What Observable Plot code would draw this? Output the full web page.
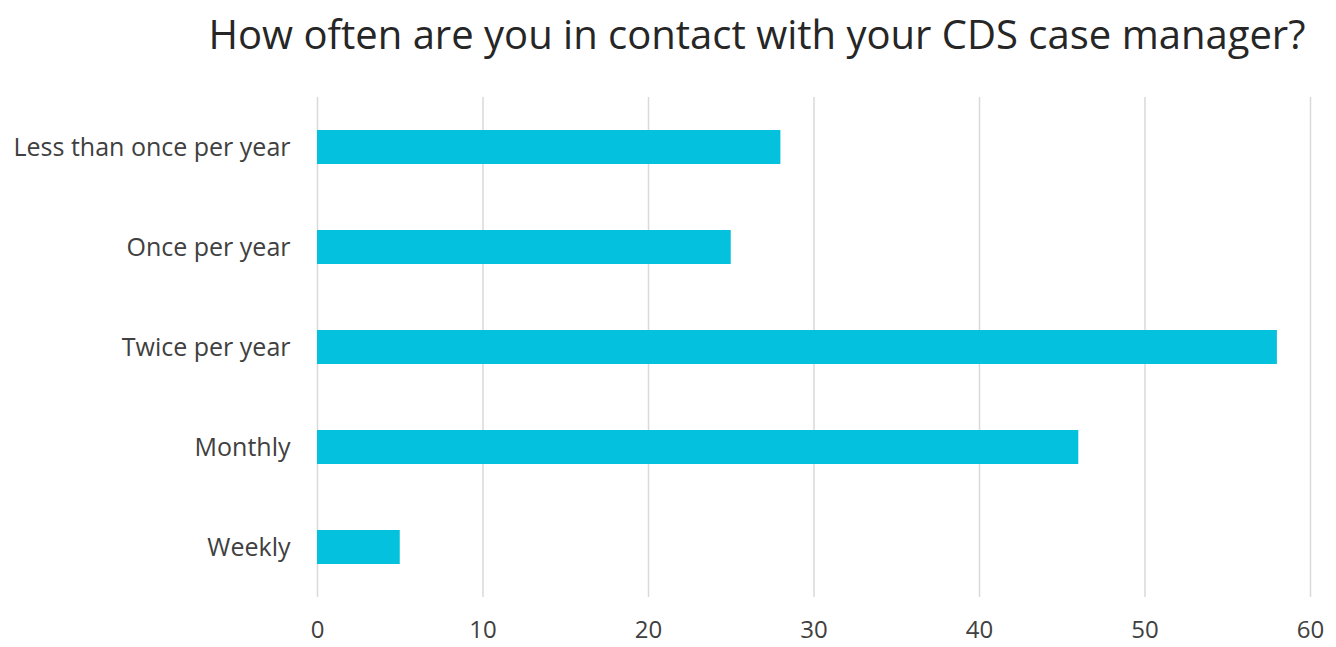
<!DOCTYPE html>
<html>
<head>
<meta charset="utf-8">
<script src="https://cdn.jsdelivr.net/npm/d3@7"></script>
<script src="https://cdn.jsdelivr.net/npm/@observablehq/plot@0.6"></script>
<style>
  html, body { margin: 0; padding: 0; background: #fff; }
  #title { position: relative; height: 70px; width: 1336px; }
  #title span { position: absolute; left: 757px; top: 33px; transform: translate(-50%, -50%);
    font-family: "Open Sans", sans-serif; font-size: 40px; color: #262626; white-space: nowrap; letter-spacing: 0px; }
  svg { display: block; }
</style>
</head>
<body>
<div id="title"><span>How often are you in contact with your CDS case manager?</span></div>
<div id="chart"></div>
<script>
const categories = ["Less than once per year", "Once per year", "Twice per year", "Monthly", "Weekly"];
const counts = [28, 25, 58, 46, 5];
const xTicks = [0, 10, 20, 30, 40, 50, 60];

const data = categories.map((c, i) => ({category: c, count: counts[i]}));

const chart = Plot.plot({
  width: 1336,
  height: 577,
  marginTop: 27,
  marginBottom: 50,
  marginLeft: 317,
  marginRight: 26,
  style: {fontFamily: "Open Sans, sans-serif", fontSize: "24px", color: "#595959", background: "#fff"},
  x: {domain: [0, 60], ticks: xTicks, label: null},
  y: {domain: categories, paddingInner: 0.66, paddingOuter: 0.33, label: null},
  marks: [
    Plot.ruleX(xTicks, {stroke: "#d9d9d9", strokeWidth: 1.5}),
    Plot.barX(data, {y: "category", x: "count", fill: "#04c1dd"}),
    Plot.axisX({ticks: xTicks, tickSize: 0, tickPadding: 23, fontSize: 24, fill: "#404040", label: null}),
    Plot.axisY({tickSize: 0, tickPadding: 27, fontSize: 25, fill: "#404040", label: null})
  ]
});
document.getElementById("chart").appendChild(chart);
</script>
</body>
</html>
